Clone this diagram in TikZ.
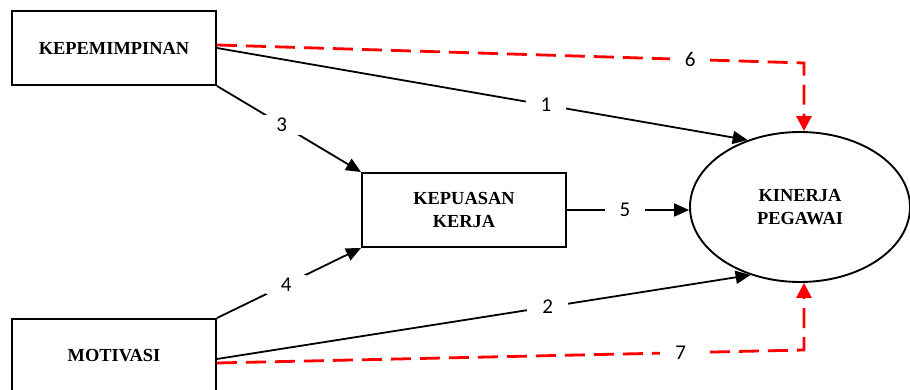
\documentclass[tikz,border=0pt]{standalone}
\usepackage{fontspec}
\setmainfont{Liberation Serif}
\newfontfamily\numfont{Carlito}
\usetikzlibrary{arrows.meta,shapes.geometric,calc}
\begin{document}
\begin{tikzpicture}[x=1pt,y=1pt,
  varbox/.style={draw,line width=1.9pt,minimum width=204pt,minimum height=74pt,inner sep=0pt,
    font=\fontsize{18.4}{23}\selectfont\bfseries,align=center},
  varell/.style={draw,ellipse,line width=1.9pt,minimum width=220pt,minimum height=150pt,inner sep=0pt,
    font=\fontsize{18.4}{23}\selectfont\bfseries,align=center},
  blk/.style={line width=1.8pt,-{Triangle[length=15pt,width=13pt]}},
  red/.style={draw=red,line width=2.8pt,dash pattern=on 20pt off 9pt,-{Triangle[length=15pt,width=15pt]}},
  lbl/.style={fill=white,inner xsep=15pt,inner ysep=3pt,font=\fontsize{21}{24}\selectfont\numfont}
]
\clip (0,0) rectangle (910,390);
\fill[white] (0,0) rectangle (910,390);

\node[varbox] (kep) at (114,342) {KEPEMIMPINAN};
\node[varbox] (mot) at (114,34) {MOTIVASI};
\node[varbox] (kepu) at (464,180) {KEPUASAN\\KERJA};
\node[varell] (kin) at (800,183) {KINERJA\\PEGAWAI};
\coordinate (c6) at (804,327);
\coordinate (c7) at (804,40);

\draw[blk] (kep.east) -- node[lbl,pos=0.62] (l1) {1} (kin.128);
\draw[blk] ([yshift=-3pt]mot.east) -- node[lbl,pos=0.62] (l2) {2} (kin.234);
\draw[blk] (kep.south east) -- node[lbl,pos=0.45] (l3) {3} (kepu.north west);
\draw[blk] (mot.north east) -- node[lbl,pos=0.48] (l4) {4} (kepu.south west);
\draw[blk] (kepu.east) -- node[lbl,pos=0.475] (l5) {5} (kepu.east -| kin.west);

\draw[red] ([yshift=3pt]kep.east) -- node[lbl,pos=0.806] (l6) {6} (c6) -- (c6 |- kin.north);
\draw[red] ([yshift=-7pt]mot.east) -- node[lbl,pos=0.79] (l7) {7} (c7) -- (c7 |- kin.south);
\end{tikzpicture}
\end{document}
